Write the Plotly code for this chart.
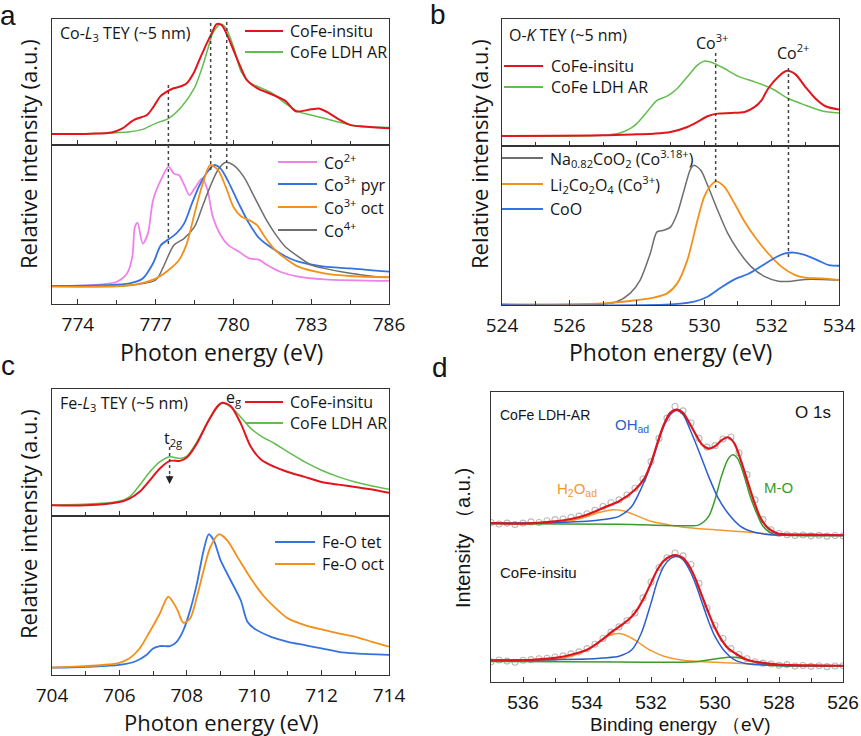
import plotly.graph_objects as go

W, H = 861, 736

# ---------- panel a : Co-L3 TEY ----------
A_INSITU_E = [773.0, 774.5, 775.3, 775.7, 776.15, 776.66, 776.92, 777.17, 777.43, 777.69, 778.0, 778.2,
              778.46, 778.71, 778.97, 779.16, 779.35, 779.55, 779.74, 780.0, 780.25, 780.5, 780.77, 781.02,
              781.5, 782.0, 782.4, 783.0, 783.3, 783.7, 784.0, 784.5, 785.0, 786.0]
A_INSITU_I = [0.087, 0.090, 0.100, 0.130, 0.198, 0.238, 0.304, 0.384, 0.423, 0.450, 0.468, 0.490,
              0.569, 0.688, 0.807, 0.886, 0.960, 0.950, 0.880, 0.754, 0.630, 0.520, 0.470, 0.440,
              0.400, 0.350, 0.268, 0.283, 0.290, 0.251, 0.212, 0.160, 0.146, 0.132]
A_LDH_E = [773.0, 775.0, 776.0, 776.5, 777.0, 777.5, 778.0, 778.5, 778.8, 779.0, 779.2, 779.5, 779.7,
           780.0, 780.3, 780.6, 781.0, 781.5, 782.0, 782.5, 783.0, 783.5, 784.0, 784.5, 785.0, 786.0]
A_LDH_I = [0.087, 0.093, 0.106, 0.124, 0.172, 0.212, 0.304, 0.455, 0.620, 0.754, 0.886, 0.960, 0.930,
           0.780, 0.580, 0.500, 0.458, 0.410, 0.330, 0.265, 0.238, 0.212, 0.185, 0.159, 0.146, 0.138]

A_CO2_E = [773.0, 774.5, 775.5, 775.9, 776.1, 776.2, 776.3, 776.5, 776.7, 776.9, 777.2, 777.5, 777.7,
           777.9, 778.1, 778.3, 778.5, 778.8, 779.0, 779.2, 779.5, 779.8, 780.2, 780.6, 781.0, 781.3,
           781.8, 782.5, 783.5, 786.0]
A_CO2_I = [0.113, 0.118, 0.140, 0.193, 0.300, 0.486, 0.510, 0.380, 0.444, 0.654, 0.780, 0.864, 0.820,
           0.810, 0.750, 0.685, 0.727, 0.790, 0.717, 0.550, 0.434, 0.370, 0.330, 0.287, 0.277, 0.245,
           0.203, 0.172, 0.155, 0.145]
A_CO3PYR_E = [773.0, 775.0, 776.0, 776.5, 776.9, 777.2, 777.5, 777.8, 778.1, 778.4, 778.7, 779.0, 779.25,
              779.5, 779.8, 780.2, 780.6, 781.0, 781.5, 782.0, 782.5, 783.5, 784.5, 786.0]
A_CO3PYR_I = [0.113, 0.118, 0.130, 0.160, 0.256, 0.370, 0.407, 0.444, 0.507, 0.633, 0.750, 0.832, 0.874,
              0.853, 0.770, 0.633, 0.507, 0.413, 0.350, 0.300, 0.266, 0.235, 0.224, 0.203]
A_CO3OCT_E = [773.0, 776.0, 777.0, 777.5, 777.9, 778.2, 778.5, 778.8, 779.1, 779.4, 779.7, 780.0, 780.3,
              780.6, 780.9, 781.2, 781.6, 782.0, 782.5, 783.5, 784.5, 786.0]
A_CO3OCT_I = [0.109, 0.118, 0.160, 0.214, 0.277, 0.380, 0.570, 0.750, 0.874, 0.843, 0.738, 0.610, 0.550,
              0.528, 0.497, 0.424, 0.340, 0.287, 0.235, 0.193, 0.176, 0.168]
A_CO4_E = [773.0, 776.0, 777.0, 777.3, 777.7, 778.1, 778.5, 778.8, 779.1, 779.4, 779.7, 780.0, 780.4,
           780.8, 781.2, 781.6, 782.0, 782.5, 783.0, 783.5, 784.5, 785.5, 786.0]
A_CO4_I = [0.113, 0.118, 0.151, 0.235, 0.370, 0.413, 0.486, 0.612, 0.738, 0.843, 0.891, 0.874, 0.800,
           0.675, 0.550, 0.444, 0.360, 0.298, 0.245, 0.224, 0.193, 0.172, 0.168]
A_MARKS = [777.49, 779.12, 779.74]

# ---------- panel b : O-K TEY ----------
B_LDH_E = [524.0, 527.0, 527.5, 527.8, 528.0, 528.3, 528.6, 528.9, 529.2, 529.5, 529.8, 530.0, 530.3,
           530.6, 531.0, 531.5, 532.0, 532.5, 533.0, 533.5, 534.0]
B_LDH_I = [0.079, 0.084, 0.103, 0.137, 0.176, 0.268, 0.360, 0.392, 0.453, 0.545, 0.637, 0.668, 0.650,
           0.610, 0.550, 0.505, 0.453, 0.374, 0.321, 0.276, 0.260]
B_INSITU_E = [524.0, 527.0, 528.0, 528.5, 529.0, 529.5, 529.8, 530.1, 530.4, 530.8, 531.2, 531.5, 531.7,
              531.9, 532.2, 532.45, 532.7, 533.0, 533.3, 533.6, 534.0]
B_INSITU_I = [0.079, 0.084, 0.092, 0.097, 0.110, 0.150, 0.190, 0.234, 0.255, 0.260, 0.268, 0.308, 0.360,
              0.453, 0.545, 0.592, 0.566, 0.466, 0.374, 0.313, 0.287]
B_NACOO_E = [524.0, 527.0, 527.4, 527.8, 528.1, 528.4, 528.6, 528.8, 529.0, 529.2, 529.4, 529.6, 529.7,
             529.9, 530.1, 530.4, 530.7, 531.0, 531.4, 531.8, 532.2, 532.6, 533.0, 533.5, 534.0]
B_NACOO_I = [0.004, 0.006, 0.020, 0.073, 0.157, 0.324, 0.460, 0.470, 0.490, 0.575, 0.720, 0.858, 0.879,
             0.847, 0.753, 0.596, 0.450, 0.345, 0.240, 0.178, 0.150, 0.150, 0.161, 0.161, 0.157]
B_LICOO_E = [524.0, 527.0, 528.0, 528.5, 528.9, 529.2, 529.5, 529.8, 530.0, 530.2, 530.35, 530.6, 530.9,
             531.2, 531.5, 531.9, 532.3, 532.7, 533.0, 533.5, 534.0]
B_LICOO_I = [0.004, 0.010, 0.031, 0.046, 0.073, 0.136, 0.282, 0.533, 0.680, 0.753, 0.778, 0.743, 0.638,
             0.523, 0.429, 0.324, 0.240, 0.188, 0.172, 0.167, 0.157]
B_COO_E = [524.0, 529.0, 529.7, 530.1, 530.5, 530.9, 531.3, 531.7, 532.1, 532.4, 532.65, 533.0, 533.4,
           533.7, 534.0]
B_COO_I = [0.000, 0.004, 0.021, 0.052, 0.110, 0.161, 0.195, 0.245, 0.297, 0.324, 0.330, 0.314, 0.278,
           0.251, 0.247]
B_MARKS = [530.34, 532.5]

# ---------- panel c : Fe-L3 TEY ----------
C_INSITU_E = [704.0, 705.0, 706.0, 706.3, 706.6, 706.9, 707.2, 707.5, 707.8, 708.0, 708.3, 708.6, 708.9,
              709.05, 709.3, 709.6, 709.9, 710.2, 710.6, 711.0, 711.5, 712.0, 712.5, 713.0, 713.5, 714.0]
C_INSITU_I = [0.084, 0.084, 0.110, 0.137, 0.190, 0.280, 0.374, 0.434, 0.434, 0.460, 0.571, 0.729, 0.860,
              0.892, 0.866, 0.729, 0.545, 0.445, 0.387, 0.347, 0.308, 0.268, 0.247, 0.229, 0.208, 0.182]
C_LDH_E = [704.0, 706.0, 706.3, 706.6, 706.9, 707.2, 707.5, 707.8, 708.0, 708.3, 708.6, 708.9, 709.05,
           709.3, 709.6, 709.9, 710.2, 710.6, 711.0, 711.5, 712.0, 712.5, 713.0, 713.5, 714.0]
C_LDH_I = [0.084, 0.116, 0.150, 0.242, 0.347, 0.426, 0.466, 0.453, 0.471, 0.584, 0.729, 0.855, 0.887,
           0.860, 0.780, 0.690, 0.629, 0.571, 0.505, 0.426, 0.360, 0.308, 0.268, 0.237, 0.210]
C_TET_E = [704.0, 705.0, 706.0, 706.5, 706.8, 707.0, 707.2, 707.5, 707.7, 707.9, 708.1, 708.3, 708.5,
           708.65, 708.8, 709.0, 709.3, 709.6, 709.8, 710.0, 710.5, 711.0, 711.5, 712.0, 712.5, 713.0, 714.0]
C_TET_I = [0.046, 0.052, 0.063, 0.088, 0.126, 0.167, 0.182, 0.182, 0.209, 0.282, 0.408, 0.575, 0.785,
           0.885, 0.847, 0.722, 0.596, 0.470, 0.335, 0.293, 0.240, 0.209, 0.188, 0.167, 0.146, 0.136, 0.126]
C_OCT_E = [704.0, 705.0, 705.5, 706.0, 706.3, 706.6, 706.9, 707.2, 707.45, 707.7, 707.9, 708.1, 708.3,
           708.5, 708.7, 708.95, 709.2, 709.5, 709.9, 710.3, 710.7, 711.0, 711.5, 712.0, 712.5, 713.0,
           713.5, 714.0]
C_OCT_I = [0.046, 0.056, 0.063, 0.077, 0.105, 0.167, 0.272, 0.387, 0.492, 0.418, 0.328, 0.356, 0.492,
           0.659, 0.805, 0.885, 0.847, 0.743, 0.607, 0.492, 0.408, 0.356, 0.314, 0.287, 0.262, 0.240,
           0.209, 0.178]
C_T2G = 707.49

# ---------- panel d : O 1s XPS ----------
D_RAW_E = [537.0, 536.75, 536.5, 536.25, 536.0, 535.75, 535.5, 535.25, 535.0, 534.75, 534.5, 534.25,
           534.0, 533.75, 533.5, 533.25, 533.0, 532.75, 532.5, 532.25, 532.0, 531.75, 531.5, 531.25,
           531.0, 530.75, 530.5, 530.25, 530.0, 529.75, 529.5, 529.25, 529.0, 528.75, 528.5, 528.25,
           528.0, 527.75, 527.5, 527.25, 527.0, 526.75, 526.5, 526.25, 526.0]
D_AR_RAW = [0.550, 0.545, 0.548, 0.543, 0.548, 0.552, 0.550, 0.556, 0.560, 0.562, 0.567, 0.572,
            0.580, 0.592, 0.605, 0.618, 0.628, 0.645, 0.668, 0.700, 0.760, 0.840, 0.910, 0.950,
            0.935, 0.893, 0.840, 0.810, 0.815, 0.838, 0.845, 0.790, 0.715, 0.628, 0.560, 0.525,
            0.512, 0.508, 0.505, 0.507, 0.504, 0.506, 0.503, 0.505, 0.504]
D_IN_RAW = [0.070, 0.076, 0.072, 0.068, 0.075, 0.077, 0.080, 0.082, 0.086, 0.090, 0.097, 0.104,
            0.115, 0.130, 0.150, 0.172, 0.190, 0.212, 0.238, 0.290, 0.345, 0.395, 0.428, 0.445,
            0.435, 0.405, 0.340, 0.255, 0.195, 0.150, 0.115, 0.095, 0.080, 0.070, 0.065, 0.062,
            0.058, 0.060, 0.055, 0.057, 0.054, 0.056, 0.053, 0.055, 0.056]

D_AR_FIT_E = [537.0, 536.0, 535.0, 534.5, 534.0, 533.5, 533.0, 532.5, 532.2, 532.0, 531.8, 531.6, 531.4,
              531.2, 531.0, 530.8, 530.6, 530.4, 530.2, 530.0, 529.8, 529.6, 529.4, 529.2, 529.0, 528.8,
              528.6, 528.4, 528.2, 528.0, 527.0, 526.0]
D_AR_FIT_I = [0.548, 0.546, 0.554, 0.562, 0.577, 0.600, 0.623, 0.663, 0.703, 0.755, 0.824, 0.887, 0.928,
              0.939, 0.928, 0.893, 0.853, 0.818, 0.805, 0.813, 0.833, 0.844, 0.824, 0.767, 0.698, 0.629,
              0.571, 0.537, 0.520, 0.511, 0.508, 0.506]
D_AR_OH_E = [537.0, 535.0, 534.0, 533.5, 533.0, 532.6, 532.3, 532.0, 531.8, 531.6, 531.4, 531.2, 531.0,
             530.8, 530.5, 530.2, 529.9, 529.6, 529.2, 528.8, 528.3, 527.5, 526.0]
D_AR_OH_I = [0.548, 0.550, 0.554, 0.560, 0.571, 0.606, 0.669, 0.749, 0.818, 0.882, 0.922, 0.936, 0.922,
             0.876, 0.795, 0.709, 0.634, 0.583, 0.537, 0.517, 0.508, 0.506, 0.505]
D_AR_MO_E = [537.0, 533.0, 531.0, 530.5, 530.2, 530.0, 529.8, 529.6, 529.45, 529.3, 529.1, 528.9, 528.7,
             528.5, 528.2, 527.8, 526.0]
D_AR_MO_I = [0.546, 0.544, 0.539, 0.542, 0.571, 0.629, 0.709, 0.767, 0.784, 0.772, 0.715, 0.640, 0.583,
             0.537, 0.511, 0.506, 0.505]
D_AR_H2O_E = [537.0, 535.0, 534.5, 534.0, 533.6, 533.2, 532.8, 532.4, 532.0, 531.5, 531.0, 530.0, 529.0,
              528.0, 526.0]
D_AR_H2O_I = [0.548, 0.550, 0.557, 0.571, 0.585, 0.594, 0.589, 0.571, 0.554, 0.543, 0.534, 0.525, 0.517,
              0.508, 0.505]

D_IN_FIT_E = [537.0, 536.0, 535.0, 534.5, 534.0, 533.6, 533.2, 532.9, 532.6, 532.4, 532.2, 532.0, 531.8,
              531.6, 531.4, 531.2, 531.0, 530.8, 530.6, 530.4, 530.2, 530.0, 529.8, 529.6, 529.3, 529.0,
              528.5, 528.0, 527.0, 526.0]
D_IN_FIT_I = [0.075, 0.075, 0.083, 0.094, 0.111, 0.140, 0.175, 0.198, 0.226, 0.255, 0.295, 0.341, 0.387,
              0.418, 0.433, 0.437, 0.428, 0.399, 0.353, 0.295, 0.238, 0.186, 0.146, 0.117, 0.094, 0.077,
              0.066, 0.060, 0.057, 0.056]
D_IN_OH_E = [537.0, 535.0, 534.0, 533.5, 533.0, 532.6, 532.3, 532.0, 531.8, 531.6, 531.4, 531.2, 531.0,
             530.8, 530.6, 530.4, 530.2, 530.0, 529.7, 529.4, 529.0, 528.0, 526.0]
D_IN_OH_I = [0.075, 0.077, 0.079, 0.083, 0.089, 0.111, 0.169, 0.272, 0.347, 0.399, 0.425, 0.433, 0.422,
             0.387, 0.336, 0.272, 0.209, 0.157, 0.106, 0.077, 0.063, 0.057, 0.056]
D_IN_H2O_E = [537.0, 535.0, 534.5, 534.0, 533.6, 533.3, 533.0, 532.7, 532.4, 532.0, 531.6, 531.0, 530.0,
              529.0, 528.0, 526.0]
D_IN_H2O_I = [0.075, 0.077, 0.089, 0.111, 0.140, 0.161, 0.167, 0.157, 0.137, 0.108, 0.089, 0.075, 0.068,
              0.063, 0.059, 0.056]
D_IN_MO_E = [537.0, 533.0, 531.0, 530.5, 530.0, 529.6, 529.4, 529.0, 528.6, 528.2, 526.0]
D_IN_MO_I = [0.071, 0.069, 0.068, 0.071, 0.079, 0.085, 0.085, 0.077, 0.063, 0.057, 0.056]

# ---------- colours / fonts ----------
RED = "#e3141b"
GREEN = "#62bd4f"
PINK = "#ef82e8"
BLUE = "#3572e2"
ORANGE = "#f39019"
GREY = "#6e6e6e"
D_RED = "#e0141b"
D_BLUE = "#2b5fce"
D_ORANGE = "#f39a2e"
D_GREEN = "#3a9b2c"
D_CIRC = "#bababa"
INK = "#151515"
LINE = "#333333"
SANS = "Open Sans"
ARIAL = "Liberation Sans"


def px(x):
    return x / W


def py(y):
    return 1 - y / H


fig = go.Figure()


def curve(xs, ys, color, axes, width=1.8):
    fig.add_trace(go.Scatter(x=xs, y=ys, mode="lines", xaxis=axes[0], yaxis=axes[1],
                             line=dict(color=color, width=width, shape="spline", smoothing=0.8),
                             showlegend=False, hoverinfo="skip"))


# a bottom (x, y), a top (x2, y2)
curve(A_CO2_E, A_CO2_I, PINK, ("x", "y"))
curve(A_CO3PYR_E, A_CO3PYR_I, BLUE, ("x", "y"))
curve(A_CO4_E, A_CO4_I, GREY, ("x", "y"), 1.5)
curve(A_CO3OCT_E, A_CO3OCT_I, ORANGE, ("x", "y"))
curve(A_LDH_E, A_LDH_I, GREEN, ("x2", "y2"), 1.5)
curve(A_INSITU_E, A_INSITU_I, RED, ("x2", "y2"), 2.0)
# b bottom (x3, y3), b top (x4, y4)
curve(B_NACOO_E, B_NACOO_I, GREY, ("x3", "y3"), 1.5)
curve(B_LICOO_E, B_LICOO_I, ORANGE, ("x3", "y3"))
curve(B_COO_E, B_COO_I, BLUE, ("x3", "y3"))
curve(B_LDH_E, B_LDH_I, GREEN, ("x4", "y4"), 1.5)
curve(B_INSITU_E, B_INSITU_I, RED, ("x4", "y4"), 2.0)
# c bottom (x5, y5), c top (x6, y6)
curve(C_TET_E, C_TET_I, BLUE, ("x5", "y5"))
curve(C_OCT_E, C_OCT_I, ORANGE, ("x5", "y5"))
curve(C_LDH_E, C_LDH_I, GREEN, ("x6", "y6"), 1.5)
curve(C_INSITU_E, C_INSITU_I, RED, ("x6", "y6"), 2.0)
# d (x7, y7)
for raw in (D_AR_RAW, D_IN_RAW):
    fig.add_trace(go.Scatter(x=D_RAW_E, y=raw, mode="markers", xaxis="x7", yaxis="y7",
                             marker=dict(symbol="circle-open", size=6, color=D_CIRC, line=dict(width=1.1)),
                             showlegend=False, hoverinfo="skip"))
curve(D_AR_H2O_E, D_AR_H2O_I, D_ORANGE, ("x7", "y7"), 1.5)
curve(D_AR_MO_E, D_AR_MO_I, D_GREEN, ("x7", "y7"), 1.5)
curve(D_AR_OH_E, D_AR_OH_I, D_BLUE, ("x7", "y7"), 1.5)
curve(D_AR_FIT_E, D_AR_FIT_I, D_RED, ("x7", "y7"), 2.2)
curve(D_IN_H2O_E, D_IN_H2O_I, D_ORANGE, ("x7", "y7"), 1.5)
curve(D_IN_MO_E, D_IN_MO_I, D_GREEN, ("x7", "y7"), 1.5)
curve(D_IN_OH_E, D_IN_OH_I, D_BLUE, ("x7", "y7"), 1.5)
curve(D_IN_FIT_E, D_IN_FIT_I, D_RED, ("x7", "y7"), 2.2)


def xaxis(dom, rng, tick0, dtick, minor, anchor, labels, font=SANS, size=19):
    return dict(domain=[px(dom[0]), px(dom[1])], range=rng, anchor=anchor, showgrid=False, zeroline=False,
                automargin=False, showline=True, mirror=True, linecolor=LINE, linewidth=1.2,
                ticks="inside", ticklen=5, tickwidth=1.2, tickcolor=LINE, tick0=tick0, dtick=dtick,
                minor=dict(ticks="inside", ticklen=4, tickwidth=1.2, tickcolor=LINE, dtick=minor, showgrid=False),
                showticklabels=labels, ticklabelstandoff=3, tickfont=dict(family=font, size=size, color=INK))


def yaxis(top, bottom, anchor):
    return dict(domain=[py(bottom), py(top)], range=[0, 1], anchor=anchor, showgrid=False, zeroline=False,
                automargin=False, showline=True, mirror=True, linecolor=LINE, linewidth=1.2, ticks="",
                showticklabels=False)


AX_A = (52, 389)
AX_B = (502, 839)
fig.update_layout(
    xaxis=xaxis(AX_A, [773, 786], 774, 3, 1.5, "y", True),
    yaxis=yaxis(145, 304, "x"),
    xaxis2=xaxis(AX_A, [773, 786], 774, 3, 1.5, "y2", False),
    yaxis2=yaxis(19, 145, "x2"),
    xaxis3=xaxis(AX_B, [524, 534], 524, 2, 1, "y3", True),
    yaxis3=yaxis(146, 305, "x3"),
    xaxis4=xaxis(AX_B, [524, 534], 524, 2, 1, "y4", False),
    yaxis4=yaxis(19, 146, "x4"),
    xaxis5=xaxis(AX_A, [704, 714], 704, 2, 1, "y5", True),
    yaxis5=yaxis(516, 675, "x5"),
    xaxis6=xaxis(AX_A, [704, 714], 704, 2, 1, "y6", False),
    yaxis6=yaxis(389, 516, "x6"),
    xaxis7=xaxis((491, 843), [537, 526], 526, 2, 1, "y7", True, ARIAL, 19),
    yaxis7=yaxis(392, 682, "x7"),
)

shapes = []
annotations = []


def text(s, x, y, size=16, color=INK, xanchor="left", font=SANS, angle=0):
    annotations.append(dict(text=s, x=px(x), y=py(y), xref="paper", yref="paper", xanchor=xanchor,
                            yanchor="middle", showarrow=False, textangle=angle,
                            font=dict(family=font, size=size, color=color)))


def marker_line(xv, xref, y0, y1):
    shapes.append(dict(type="line", xref=xref, yref="paper", x0=xv, x1=xv, y0=py(y0), y1=py(y1),
                       line=dict(color="#444444", width=1.5, dash="dot")))


def legend(items, x0, x1, xt, ys, size=16):
    for (name, color), yc in zip(items, ys):
        shapes.append(dict(type="line", xref="paper", yref="paper", x0=px(x0), x1=px(x1),
                           y0=py(yc), y1=py(yc), line=dict(color=color, width=1.8)))
        text(name, xt, yc, size)


# dotted guide lines
for xv, (y0, y1) in zip(A_MARKS, [(85, 247), (23, 170), (22, 172)]):
    marker_line(xv, "x", y0, y1)
for xv, (y0, y1) in zip(B_MARKS, [(53, 190), (68, 257)]):
    marker_line(xv, "x3", y0, y1)
marker_line(C_T2G, "x5", 447, 474)
annotations.append(dict(x=C_T2G, y=py(484), xref="x5", yref="paper", ax=0, ay=-10, text="",
                        showarrow=True, arrowhead=2, arrowsize=1.2, arrowwidth=1.3, arrowcolor="#222222"))

# legends
legend([("CoFe-insitu", RED), ("CoFe LDH AR", GREEN)], 245, 283, 288, [31, 52])
legend([("Co<sup>2+</sup>", PINK), ("Co<sup>3+</sup> pyr", BLUE), ("Co<sup>3+</sup> oct", ORANGE),
        ("Co<sup>4+</sup>", GREY)], 278, 317, 322, [162, 184, 207, 230])
legend([("CoFe-insitu", RED), ("CoFe LDH AR", GREEN)], 504, 543, 549, [66, 87])
legend([("Na<sub>0.82</sub>CoO<sub>2</sub> (Co<sup>3.18+</sup>)", GREY),
        ("Li<sub>2</sub>Co<sub>2</sub>O<sub>4</sub> (Co<sup>3+</sup>)", ORANGE), ("CoO", BLUE)],
       502, 543, 548, [158, 184, 209])
legend([("CoFe-insitu", RED), ("CoFe LDH AR", GREEN)], 245, 283, 288, [402, 423])
legend([("Fe-O tet", BLUE), ("Fe-O oct", ORANGE)], 275, 315, 320, [542, 564])

# panel titles and labels
text("Co-<i>L</i><sub>3</sub> TEY (~5 nm)", 58, 33)
text("O-<i>K</i> TEY (~5 nm)", 507, 35)
text("Fe-<i>L</i><sub>3</sub> TEY (~5 nm)", 58, 403)
text("Co<sup>3+</sup>", 712, 42, 16, xanchor="center")
text("Co<sup>2+</sup>", 793, 52, 16, xanchor="center")
text("t<sub>2g</sub>", 173, 438, 16, xanchor="center")
text("e<sub>g</sub>", 233, 397, 16, xanchor="center")

text("CoFe LDH-AR", 498, 415, 14, font=ARIAL)
text("O 1s", 813, 412, 17, xanchor="center", font=ARIAL)
text("OH<sub>ad</sub>", 613, 425, 15, D_BLUE, font=ARIAL)
text("H<sub>2</sub>O<sub>ad</sub>", 555, 489, 15, D_ORANGE, font=ARIAL)
text("M-O", 762, 488, 15, D_GREEN, font=ARIAL)
text("CoFe-insitu", 498, 572, 15, font=ARIAL)

for letter, x, y in [("a", 8, 16), ("b", 438, 15), ("c", 8, 366), ("d", 440, 367)]:
    text(letter, x, y, 28, xanchor="center", font=ARIAL)

# axis titles
for x, y in [(221, 352), (670, 352)]:
    text("Photon energy (eV)", x, y, 23, xanchor="center")
text("Photon energy (eV)", 221, 722, 22, xanchor="center")
text("Binding energy （eV)", 680, 724, 19, xanchor="center", font=ARIAL)
for x, y in [(28, 154), (479, 154), (28, 524)]:
    text("Relative intensity (a.u.)", x, y, 22, xanchor="center", angle=-90)
text("Intensity （a.u.)", 463, 538, 20, xanchor="center", font=ARIAL, angle=-90)

fig.update_layout(width=W, height=H, autosize=False, margin=dict(l=0, r=0, t=0, b=0, autoexpand=False),
                  paper_bgcolor="white", plot_bgcolor="white", showlegend=False,
                  shapes=shapes, annotations=annotations)

# the page's default 8px body margin would push the figure off the window
fig.write_html("out.html", config={"displayModeBar": False},
               post_script="document.body.style.margin='0';document.body.style.overflow='hidden';")
